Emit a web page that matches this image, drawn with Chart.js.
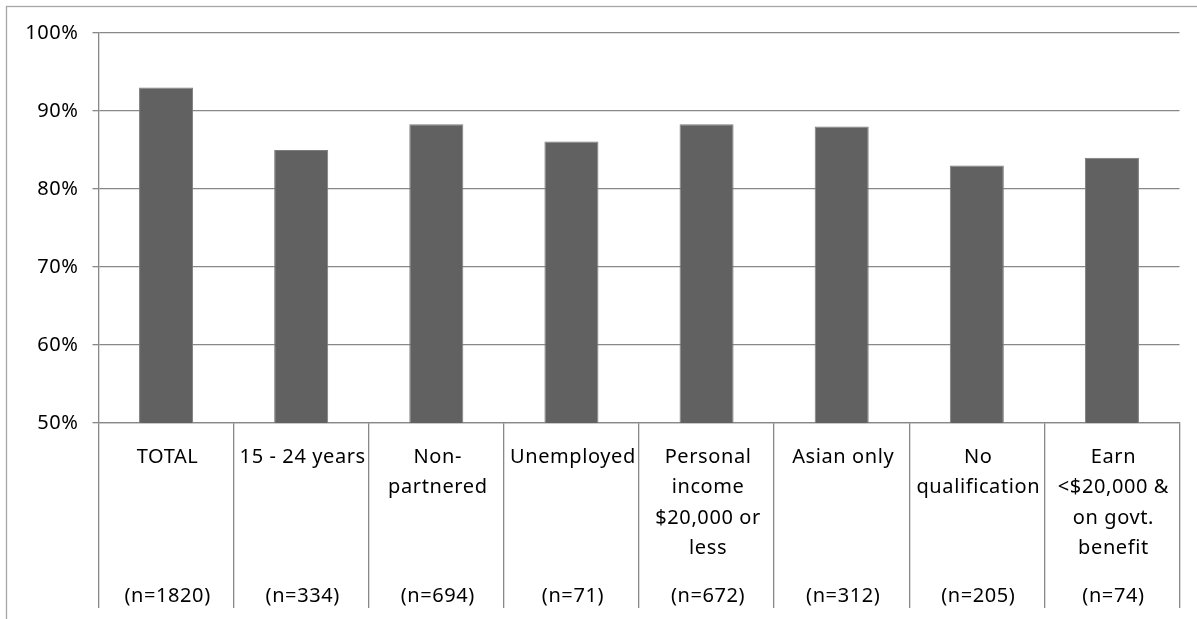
<!DOCTYPE html>
<html>
<head>
<meta charset="utf-8">
<script src="https://cdn.jsdelivr.net/npm/chart.js@4.4.1/dist/chart.umd.min.js"></script>
<style>
  html, body { margin: 0; padding: 0; background: #fff; }
  #c { display: block; }
</style>
</head>
<body>
<canvas id="c" width="1197" height="619"></canvas>
<script>
// Group labels (one entry per text line) and sample sizes
const categories = [
  ["TOTAL"],
  ["15 - 24 years"],
  ["Non-", "partnered"],
  ["Unemployed"],
  ["Personal", "income", "$20,000 or", "less"],
  ["Asian only"],
  ["No", "qualification"],
  ["Earn", "<$20,000 &", "on govt.", "benefit"]
];
const sampleSizes = ["(n=1820)", "(n=334)", "(n=694)", "(n=71)", "(n=672)", "(n=312)", "(n=205)", "(n=74)"];

// Percentage of each group
const shares = [93, 85, 88.3, 86.1, 88.3, 88, 83, 84];

// Y axis range and step (percent)
const yMin = 50;
const yMax = 100;
const yStep = 10;

const FONT = "'Noto Sans', 'Open Sans', sans-serif";
const FONT_SIZE = 20;
const LINE_COLOR = '#888888';

// Thin frame around the whole figure
const framePlugin = {
  id: 'frame',
  beforeDraw(chart) {
    const ctx = chart.ctx;
    ctx.save();
    ctx.fillStyle = '#ffffff';
    ctx.fillRect(0, 0, chart.width, chart.height);
    ctx.strokeStyle = '#a6a6a6';
    ctx.lineWidth = 1.3;
    ctx.strokeRect(6.5, 6.5, chart.width + 50, chart.height + 50);
    ctx.restore();
    ctx.letterSpacing = '0.6px';
  }
};

// Category text drawn inside the boxes under the plot
const groupLabelPlugin = {
  id: 'groupLabels',
  afterDraw(chart) {
    const ctx = chart.ctx;
    const x = chart.scales.x;
    const base = chart.chartArea.bottom;
    ctx.save();
    ctx.letterSpacing = '0.6px';
    ctx.font = FONT_SIZE + 'px ' + FONT;
    ctx.fillStyle = '#000000';
    ctx.textAlign = 'center';
    ctx.textBaseline = 'alphabetic';
    categories.forEach((lines, i) => {
      const cx = x.getPixelForValue(i) + 1.5;
      lines.forEach((t, j) => {
        ctx.fillText(t, cx, base + 40 + j * 30.4);
      });
      ctx.fillText(sampleSizes[i], cx, base + 178.5);
    });
    ctx.restore();
  }
};

new Chart(document.getElementById('c'), {
  type: 'bar',
  data: {
    labels: categories.map(l => l.join(' ')),
    datasets: [{
      data: shares,
      backgroundColor: '#616161',
      borderColor: '#7d7d7d',
      borderWidth: 1,
      barPercentage: 0.4,
      categoryPercentage: 1.0
    }]
  },
  options: {
    responsive: false,
    animation: false,
    devicePixelRatio: 1,
    layout: { padding: { left: 0, top: 33, right: 17.5, bottom: 11 } },
    plugins: {
      legend: { display: false },
      tooltip: { enabled: false }
    },
    scales: {
      x: {
        type: 'category',
        offset: true,
        ticks: { display: false },
        grid: {
          offset: true,
          drawOnChartArea: false,
          drawTicks: true,
          tickLength: 185,
          color: LINE_COLOR,
          lineWidth: 1.3
        },
        border: { display: true, color: LINE_COLOR, width: 1.3 },
        afterFit(s) { s.height = 185; }
      },
      y: {
        min: yMin,
        max: yMax,
        ticks: {
          stepSize: yStep,
          padding: 14,
          color: '#000000',
          font: { family: FONT, size: FONT_SIZE },
          callback: v => v + '%'
        },
        grid: {
          color: LINE_COLOR,
          lineWidth: 1.3,
          tickLength: 6
        },
        border: { display: true, color: LINE_COLOR, width: 1.3 },
        afterFit(s) { s.width = 98.5; }
      }
    }
  },
  plugins: [framePlugin, groupLabelPlugin]
});
</script>
</body>
</html>
